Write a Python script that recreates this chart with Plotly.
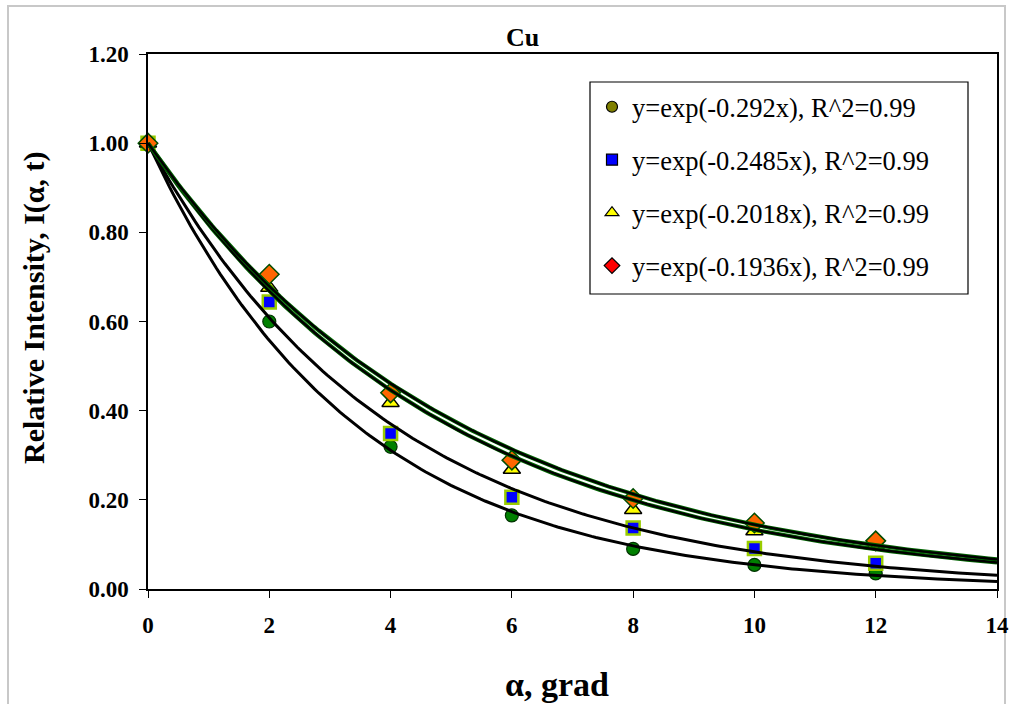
import numpy as np
import plotly.graph_objects as go

# ---- data ----
angles = [0, 2, 4, 6, 8, 10, 12]
series_circle = [1.00, 0.600, 0.319, 0.165, 0.090, 0.054, 0.035]
series_square = [1.00, 0.644, 0.349, 0.206, 0.137, 0.091, 0.058]
series_triangle = [1.00, 0.676, 0.418, 0.268, 0.178, 0.130, 0.100]
series_diamond = [1.00, 0.706, 0.440, 0.289, 0.203, 0.148, 0.108]
fit_coeffs = [0.292, 0.2485, 0.2018, 0.1936]
legend_labels = [
    "y=exp(-0.292x), R^2=0.99",
    "y=exp(-0.2485x), R^2=0.99",
    "y=exp(-0.2018x), R^2=0.99",
    "y=exp(-0.1936x), R^2=0.99",
]
x_ticks = [0, 2, 4, 6, 8, 10, 12, 14]
y_ticks = [0.0, 0.2, 0.4, 0.6, 0.8, 1.0, 1.2]

FONT = "Liberation Serif, Times New Roman, serif"

fig = go.Figure()

# data markers (plot styles)
marker_styles = [
    dict(symbol="circle", size=13, color="#008000", line=dict(color="#003300", width=1.2)),
    dict(symbol="square", size=13, color="#0000ff", line=dict(color="#99cc00", width=2.5)),
    dict(symbol="triangle-up", size=15, color="#ffff00", line=dict(color="#000000", width=1.5)),
    dict(symbol="diamond", size=15, color="#ff6600", line=dict(color="#004d00", width=1.5)),
]
all_series = [series_circle, series_square, series_triangle, series_diamond]
for ys, ms in zip(all_series, marker_styles):
    fig.add_trace(go.Scatter(x=angles, y=ys, mode="markers", marker=ms,
                             showlegend=False, cliponaxis=False, hoverinfo="skip"))

# trendlines from the fitted coefficients
xf = np.linspace(0, 14, 200)
for i, k in enumerate(fit_coeffs):
    yf = np.exp(-k * xf)
    if i >= 2:
        fig.add_trace(go.Scatter(x=xf, y=yf, mode="lines",
                                 line=dict(color="#006400", width=4),
                                 showlegend=False, hoverinfo="skip"))
        fig.add_trace(go.Scatter(x=xf, y=yf, mode="lines",
                                 line=dict(color="#000000", width=2.4),
                                 showlegend=False, hoverinfo="skip"))
    else:
        fig.add_trace(go.Scatter(x=xf, y=yf, mode="lines",
                                 line=dict(color="#000000", width=3),
                                 showlegend=False, hoverinfo="skip"))

# legend entries (legend marker styles)
legend_markers = [
    dict(symbol="circle", size=11, color="#808000", line=dict(color="#000000", width=1.2)),
    dict(symbol="square", size=11, color="#0000ff", line=dict(color="#000000", width=1.2)),
    dict(symbol="triangle-up", size=12, color="#ffff00", line=dict(color="#000000", width=1.2)),
    dict(symbol="diamond", size=12, color="#ff0000", line=dict(color="#000000", width=1.2)),
]
for i, (lab, ms) in enumerate(zip(legend_labels, legend_markers)):
    fig.add_trace(go.Scatter(x=[None], y=[None], mode="markers", marker=ms,
                             name=lab, legendgroup=f"g{i}", showlegend=True))

W, H = 1012, 704
L, R, T, B = 148, 15, 54, 115
pw, ph = W - L - R, H - T - B

def px_x(p):
    return (p - L) / pw

def px_y(p):
    return (H - B - p) / ph

shapes = [
    # outer chart border
    dict(type="rect", xref="paper", yref="paper",
         x0=px_x(8), x1=px_x(1005), y0=px_y(712), y1=px_y(6),
         line=dict(color="#c8c8c8", width=2), fillcolor="rgba(0,0,0,0)", layer="below"),
    # legend box
    dict(type="rect", xref="paper", yref="paper",
         x0=px_x(590), x1=px_x(968), y0=px_y(294), y1=px_y(82),
         line=dict(color="#000000", width=1.2), fillcolor="white", layer="below"),
]

annotations = [
    dict(text="<b>Cu</b>", xref="paper", yref="paper", x=px_x(522), y=px_y(37),
         xanchor="center", yanchor="middle", showarrow=False,
         font=dict(size=26, family=FONT, color="black")),
    dict(text="<b>Relative Intensity, I(α, t)</b>", xref="paper", yref="paper",
         x=px_x(34), y=px_y(307), xanchor="center", yanchor="middle", textangle=-90,
         showarrow=False, font=dict(size=30, family=FONT, color="black")),
    dict(text="<b>α, grad</b>", xref="paper", yref="paper",
         x=px_x(557), y=px_y(684), xanchor="center", yanchor="middle",
         showarrow=False, font=dict(size=34, family=FONT, color="black")),
]

fig.update_layout(
    width=W, height=H,
    margin=dict(l=L, r=R, t=T, b=B, autoexpand=False),
    paper_bgcolor="white", plot_bgcolor="white",
    font=dict(family=FONT, color="black"),
    showlegend=True,
    legend=dict(x=px_x(592), y=px_y(83), xanchor="left", yanchor="top",
                bgcolor="rgba(0,0,0,0)", borderwidth=0,
                font=dict(size=26.5, family=FONT), tracegroupgap=15.5,
                traceorder="grouped", itemwidth=30),
    shapes=shapes,
    annotations=annotations,
)

fig.update_xaxes(range=[0, 14], tickvals=x_ticks, ticktext=[f"<b>{v}</b>" for v in x_ticks],
                 showgrid=False, zeroline=False, showline=True, linecolor="black",
                 linewidth=1.5, mirror=True, ticks="outside", ticklen=7, tickcolor="black",
                 tickfont=dict(size=23, family=FONT), ticklabelstandoff=8)
fig.update_yaxes(range=[0, 1.2], tickvals=y_ticks, ticktext=[f"<b>{v:.2f}</b>" for v in y_ticks],
                 showgrid=False, zeroline=False, showline=True, linecolor="black",
                 linewidth=1.5, mirror=True, ticks="outside", ticklen=7, tickcolor="black",
                 tickfont=dict(size=23, family=FONT), ticklabelstandoff=6)

fig.write_html("out.html", config={"displayModeBar": False},
               post_script="document.body.style.margin='0';")
